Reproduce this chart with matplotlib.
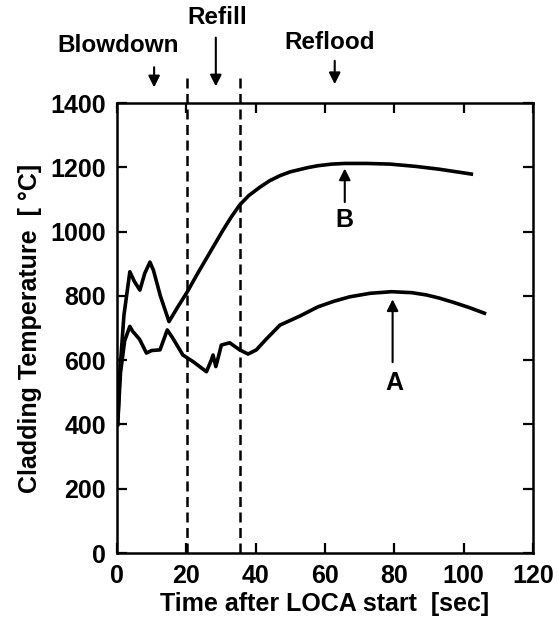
import matplotlib.pyplot as plt

# --- Data ---
time_a = [0.2, 1.0, 2.2, 3.7, 4.5, 5.7, 6.5, 8.5, 10.0, 12.4, 14.5, 16.0, 19.0, 22.0,
          25.8, 27.2, 27.7, 28.5, 29.0, 30.1, 32.5, 35.4, 37.8, 40.2, 43.0, 47.0,
          52.7, 58.0, 62.5, 67.1, 73.0, 79.2, 85.0, 89.2, 93.0, 97.0, 101.5, 106.0]
temp_a = [400, 560, 660, 705, 690, 675, 665, 622, 630, 632, 694, 670, 616, 595,
          564, 600, 616, 580, 600, 647, 654, 632, 619, 632, 665, 709,
          737, 766, 783, 797, 808, 813, 810, 803, 793, 780, 764, 746]

time_b = [0.2, 0.8, 2.0, 3.7, 5.0, 6.6, 8.0, 9.5, 10.5, 12.5, 15.0, 17.5, 20.3, 23.0,
          26.8, 30.6, 33.0, 35.4, 38.0, 41.2, 44.0, 47.0, 50.0, 52.7, 55.0, 58.0,
          62.0, 65.7, 72.0, 78.7, 86.0, 93.0, 102.2]
temp_b = [400, 560, 740, 875, 845, 818, 870, 905, 880, 800, 720, 765, 813, 865,
          935, 1005, 1046, 1083, 1112, 1138, 1158, 1174, 1186, 1193, 1199, 1205,
          1210, 1212, 1212, 1210, 1203, 1194, 1179]

phase_bounds = [20.3, 35.4]
phase_names = ['Blowdown', 'Refill', 'Reflood']
phase_arrow_x = [10.7, 28.5, 62.8]

plt.rcParams['font.family'] = ['Liberation Sans', 'DejaVu Sans']
plt.rcParams['font.weight'] = 'bold'

fig = plt.figure(figsize=(5.58, 6.27), dpi=100)
ax = fig.add_axes([0.2097, 0.118, 0.7455, 0.7177])

ax.plot(time_a, temp_a, color='black', lw=2.6, solid_joinstyle='round')
ax.plot(time_b, temp_b, color='black', lw=2.6, solid_joinstyle='round')

# phase boundaries (run above the frame)
for xb in phase_bounds:
    ax.plot([xb, xb], [0, 1480], color='black', lw=1.8, ls=(0, (4, 2.2)), clip_on=False)

ax.set_xlim(0, 120)
ax.set_ylim(0, 1400)
ax.set_xticks(range(0, 121, 20))
ax.set_yticks(range(0, 1401, 200))

ax.tick_params(direction='in', length=7, width=1.6, top=True, right=True,
               labelsize=18, pad=8)
for lab in ax.get_xticklabels() + ax.get_yticklabels():
    lab.set_fontweight('bold')
for sp in ax.spines.values():
    sp.set_linewidth(1.8)

ax.set_xlabel('Time after LOCA start  [sec]', fontsize=18, fontweight='bold', labelpad=3)
ax.set_ylabel('Cladding Temperature  [ °C]', fontsize=18, fontweight='bold', labelpad=6)

# phase labels with arrows
arrow_kw = dict(arrowstyle='-|>', color='black', lw=1.5, mutation_scale=17)
ax.annotate('', xy=(phase_arrow_x[0], 1440), xytext=(phase_arrow_x[0], 1520),
            arrowprops=arrow_kw, annotation_clip=False)
ax.annotate('', xy=(phase_arrow_x[1], 1443), xytext=(phase_arrow_x[1], 1612),
            arrowprops=arrow_kw, annotation_clip=False)
ax.annotate('', xy=(phase_arrow_x[2], 1450), xytext=(phase_arrow_x[2], 1540),
            arrowprops=arrow_kw, annotation_clip=False)
ax.text(0.3, 1580, phase_names[0], ha='center', va='center', fontsize=17.5, fontweight='bold')
ax.text(28.8, 1665, phase_names[1], ha='center', va='center', fontsize=17.5, fontweight='bold')
ax.text(61.4, 1587, phase_names[2], ha='center', va='center', fontsize=17.5, fontweight='bold')

# curve labels
ax.annotate('', xy=(79.5, 798), xytext=(79.5, 585), arrowprops=arrow_kw)
ax.text(80, 528, 'A', ha='center', va='center', fontsize=18, fontweight='bold')
ax.annotate('', xy=(65.7, 1205), xytext=(65.7, 1083), arrowprops=arrow_kw)
ax.text(65.7, 1036, 'B', ha='center', va='center', fontsize=18, fontweight='bold')

fig.savefig('out.png', dpi=100)
